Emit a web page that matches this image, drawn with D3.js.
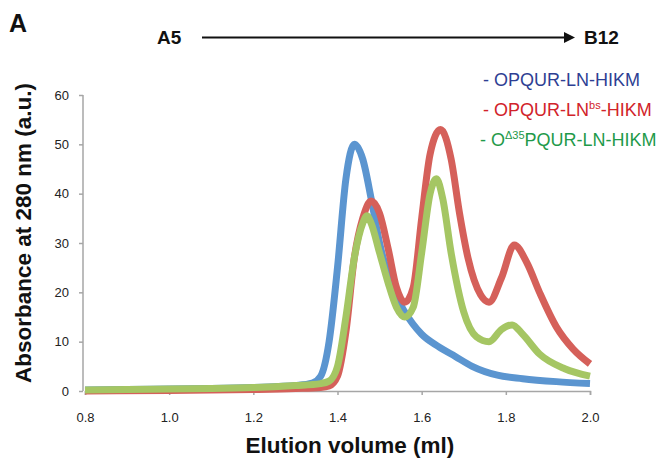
<!DOCTYPE html>
<html><head><meta charset="utf-8">
<script src="https://cdn.jsdelivr.net/npm/d3@7"></script>
<style>body{margin:0;background:#fff}svg{display:block;font-family:"Liberation Sans",Arial,sans-serif}</style>
</head><body><svg id="c" width="663" height="462"></svg>
<script>
const xTicks = [0.8, 1.0, 1.2, 1.4, 1.6, 1.8, 2.0];
const yTicks = [0, 10, 20, 30, 40, 50, 60];
const seriesNames = ["OPQUR-LN-HIKM", "OPQUR-LNbs-HIKM", "OΔ35PQUR-LN-HIKM"];
const blueX = [0.8,0.9,1.0,1.1,1.2,1.26,1.3,1.34,1.36,1.38,1.40,1.42,1.44,1.46,1.48,1.50,1.53,1.56,1.60,1.64,1.68,1.72,1.78,1.84,1.92,2.0];
const blueY = [0.2,0.3,0.4,0.5,0.7,0.9,1.1,1.6,3,10,25,43,50,47,39,30,21,16,11.5,9,7,5,3.2,2.5,1.9,1.5];
const redX = [0.8,1.0,1.2,1.3,1.36,1.38,1.40,1.42,1.44,1.46,1.48,1.50,1.52,1.54,1.56,1.58,1.60,1.62,1.645,1.67,1.69,1.71,1.74,1.76,1.79,1.82,1.85,1.88,1.92,1.96,2.0];
const redY = [0,0.1,0.3,0.5,0.7,1,3,12,27,35,38.5,36,29,21,18,21,35,48,53,47,36,27,19.5,18,23,29.6,26,20,13,8.5,5.5];
const greenX = [0.8,0.9,1.0,1.1,1.2,1.26,1.3,1.36,1.38,1.40,1.42,1.44,1.46,1.47,1.48,1.50,1.52,1.54,1.56,1.58,1.60,1.62,1.635,1.65,1.67,1.70,1.73,1.76,1.79,1.815,1.84,1.88,1.94,2.0];
const greenY = [0.2,0.3,0.4,0.5,0.7,0.9,1.1,1.5,2,5,15,27,34,35.5,34,28,22,17,15,17,28,40,43,39,28,16,11,10,12.5,13.4,11.5,7.5,4.5,3];

const svg = d3.select("#c");
const x = d3.scaleLinear().domain([0.8, 2.0]).range([85, 590]);
const y = d3.scaleLinear().domain([0, 60]).range([391, 95]);
const axisColor = "#a6a6a6";

// axes
const gx = svg.append("g").attr("transform", "translate(0,391)")
  .call(d3.axisBottom(x).tickValues(xTicks).tickFormat(d3.format(".1f")).tickSize(4).tickPadding(18));
const gy = svg.append("g").attr("transform", "translate(83,0)")
  .call(d3.axisLeft(y).tickValues(yTicks).tickSize(4).tickPadding(10));
[gx, gy].forEach(g => {
  g.select(".domain").attr("stroke", axisColor).attr("stroke-width", 1.5);
  g.selectAll(".tick line").attr("stroke", axisColor).attr("stroke-width", 1.5);
  g.selectAll(".tick text").attr("fill", "#222").style("font-size", "13px").style("font-family", "Liberation Sans, Arial, sans-serif");
});
gy.select(".domain").attr("d", "M-0,95V391");

// lines
const series = [
  {xs: blueX, ys: blueY, color: "#5b95d0"},
  {xs: redX, ys: redY, color: "#d5605a"},
  {xs: greenX, ys: greenY, color: "#a5c663"}
];
const line = d3.line().x(d => x(d[0])).y(d => y(d[1])).curve(d3.curveMonotoneX);
series.forEach(s => {
  svg.append("path").datum(s.xs.map((v, i) => [v, s.ys[i]]))
    .attr("d", line).attr("fill", "none").attr("stroke", s.color)
    .attr("stroke-width", 7).attr("stroke-linejoin", "round").attr("stroke-linecap", "butt");
});

// titles
svg.append("text").attr("x", 9).attr("y", 32).text("A")
  .style("font-size", "25px").style("font-weight", "bold").attr("fill", "#111");
svg.append("text").attr("x", 157).attr("y", 44).text("A5")
  .style("font-size", "19px").style("font-weight", "bold").attr("fill", "#111");
svg.append("text").attr("x", 584).attr("y", 44).text("B12")
  .style("font-size", "19px").style("font-weight", "bold").attr("fill", "#111");
svg.append("line").attr("x1", 202).attr("y1", 37.5).attr("x2", 566).attr("y2", 37.5)
  .attr("stroke", "#111").attr("stroke-width", 2);
svg.append("path").attr("d", "M564,32L575,37.5L564,43Z").attr("fill", "#111");

svg.append("text").attr("transform", "translate(31,233) rotate(-90)").attr("text-anchor", "middle")
  .text("Absorbance at 280 nm (a.u.)").style("font-size", "22.5px").style("font-weight", "bold").attr("fill", "#111");
svg.append("text").attr("x", 350).attr("y", 453).attr("text-anchor", "middle")
  .text("Elution volume (ml)").style("font-size", "22.5px").style("font-weight", "bold").attr("fill", "#111");

// legend
const lg = svg.append("g").style("font-size", "18px");
const t1 = lg.append("text").attr("x", 483).attr("y", 86).attr("fill", "#2e3f93");
t1.append("tspan").text("- " + seriesNames[0]);
const t2 = lg.append("text").attr("x", 483).attr("y", 116).attr("fill", "#d1232a");
t2.append("tspan").text("- OPQUR-LN");
t2.append("tspan").text("bs").attr("dy", -7).style("font-size", "11px");
t2.append("tspan").text("-HIKM").attr("dy", 7);
const t3 = lg.append("text").attr("x", 480).attr("y", 146).attr("fill", "#1f9a4a");
t3.append("tspan").text("- O");
t3.append("tspan").text("Δ35").attr("dy", -7).style("font-size", "11px");
t3.append("tspan").text("PQUR-LN-HIKM").attr("dy", 7);
</script></body></html>
